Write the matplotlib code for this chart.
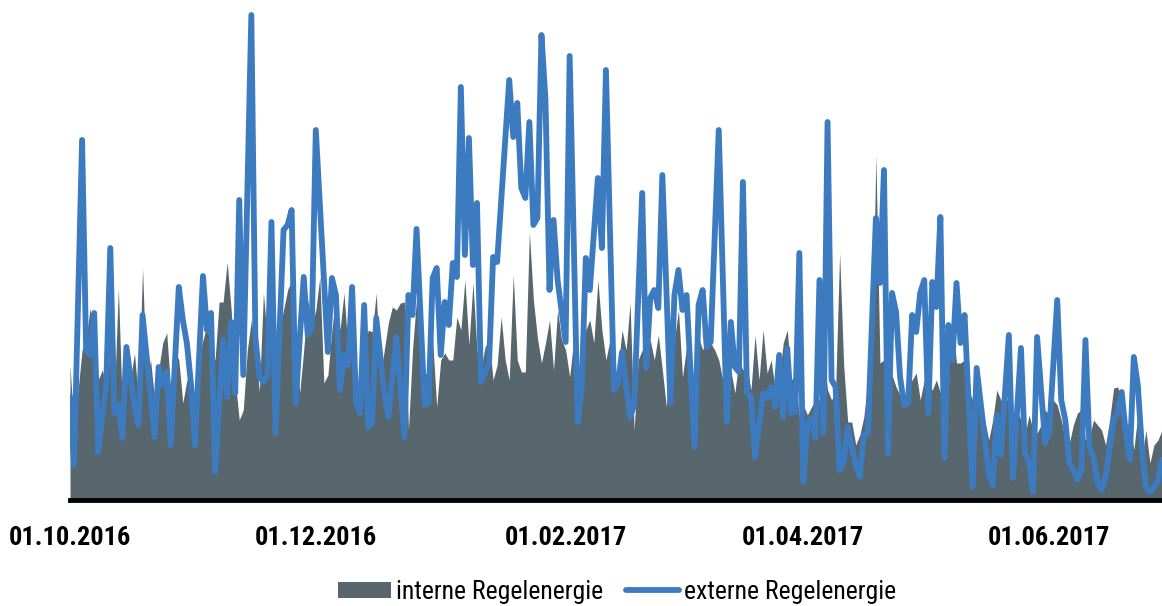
import datetime as dt
import matplotlib
matplotlib.use("Agg")
import matplotlib.pyplot as plt
from matplotlib import font_manager
from matplotlib.patches import Patch
from matplotlib.lines import Line2D

start = dt.date(2016, 10, 1)

# interne Regelenergie, one value per day from 01.10.2016
interne = [
    135, 70, 110, 150, 160, 192, 150, 120, 130, 115,
    150, 100, 212, 90, 140, 120, 147, 100, 232, 117,
    140, 100, 130, 157, 167, 110, 150, 140, 97, 120,
    115, 100, 140, 160, 175, 150, 140, 198, 198, 238,
    190, 120, 80, 90, 150, 180, 150, 108, 207, 160,
    150, 130, 170, 190, 210, 220, 160, 107, 150, 200,
    175, 190, 223, 117, 125, 170, 207, 170, 207, 150,
    190, 110, 113, 150, 170, 168, 207, 123, 150, 177,
    193, 190, 197, 198, 70, 150, 202, 160, 130, 120,
    160, 93, 140, 147, 140, 140, 183, 170, 220, 155,
    217, 150, 130, 153, 160, 120, 135, 183, 140, 120,
    225, 140, 128, 128, 268, 200, 162, 137, 157, 180,
    130, 190, 160, 150, 123, 160, 120, 140, 170, 180,
    157, 220, 170, 140, 160, 120, 130, 170, 150, 197,
    70, 140, 150, 147, 160, 140, 165, 130, 93, 167,
    160, 190, 123, 153, 140, 110, 163, 150, 163, 157,
    150, 140, 120, 143, 130, 107, 140, 130, 133, 110,
    165, 120, 170, 127, 140, 110, 120, 157, 170, 120,
    125, 83, 95, 85, 93, 100, 100, 147, 110, 100,
    110, 247, 135, 78, 78, 55, 65, 83, 120, 140,
    345, 137, 140, 120, 125, 113, 105, 95, 115, 120,
    127, 100, 120, 115, 110, 120, 107, 130, 150, 178,
    137, 137, 140, 110, 100, 100, 95, 80, 60, 80,
    110, 100, 95, 105, 75, 90, 80, 65, 85, 70,
    67, 75, 90, 85, 100, 95, 80, 60, 57, 75,
    87, 90, 60, 63, 80, 75, 70, 55, 80, 112,
    113, 100, 70, 80, 50, 85, 40, 70, 37, 55,
    60, 70,
]

# externe Regelenergie, read at the turning points of the line (day offset, value)
extern_days = [
    0, 1, 3, 4, 5, 6, 7, 9, 10, 11, 12, 13, 14, 16, 17, 18, 21, 22, 23, 24,
    25, 27, 28, 29, 30, 31, 33, 34, 35, 36, 38, 39, 40, 41, 42, 43, 45, 46, 47, 48,
    49, 50, 51, 53, 54, 55, 56, 58, 59, 60, 61, 64, 65, 66, 67, 68, 69, 70, 71, 72,
    73, 74, 75, 76, 78, 79, 81, 83, 84, 85, 86, 88, 89, 90, 91, 92, 93, 94, 95, 96,
    97, 98, 99, 100, 101, 102, 104, 105, 106, 109, 110, 111, 112, 113, 114, 115, 116, 117, 118, 119,
    120, 121, 123, 124, 126, 127, 128, 129, 131, 132, 133, 135, 136, 137, 139, 140, 142, 143, 144, 145,
    146, 147, 149, 150, 151, 152, 153, 155, 156, 157, 158, 159, 161, 163, 164, 165, 166, 167, 168, 169,
    170, 172, 173, 174, 175, 176, 177, 178, 179, 180, 181, 182, 183, 184, 185, 186, 187, 188, 189, 190,
    191, 192, 193, 194, 195, 196, 197, 198, 200, 201, 202, 203, 204, 205, 206, 207, 208, 209, 210, 211,
    212, 213, 214, 215, 216, 217, 218, 219, 220, 221, 222, 224, 225, 228, 229, 230, 231, 233, 234, 236,
    237, 238, 239, 240, 242, 243, 245, 246, 247, 248, 249, 250, 251, 252, 253, 254, 255, 256, 257, 258,
    259, 260, 261, 262, 263, 264, 265, 266, 267, 268, 269, 270, 271,
]
extern_vals = [
    103, 35, 360, 150, 145, 187, 48, 117, 252, 87, 95, 62, 153, 93, 75, 185, 63, 133, 115, 128,
    55, 213, 180, 157, 117, 55, 224, 170, 187, 28, 160, 103, 178, 107, 300, 125, 485, 163, 123, 118,
    125, 278, 67, 270, 275, 290, 97, 223, 165, 172, 370, 148, 222, 205, 110, 145, 135, 213, 97, 87,
    195, 73, 78, 182, 107, 83, 163, 63, 205, 185, 271, 95, 97, 222, 232, 145, 198, 175, 237, 223,
    413, 245, 362, 235, 297, 118, 137, 243, 238, 420, 363, 397, 312, 302, 378, 275, 282, 465, 400, 210,
    280, 220, 158, 444, 78, 112, 242, 210, 322, 252, 430, 110, 117, 148, 83, 95, 307, 132, 202, 210,
    192, 325, 97, 205, 230, 190, 205, 53, 195, 210, 153, 158, 370, 78, 178, 133, 128, 318, 107, 103,
    43, 107, 102, 113, 93, 145, 83, 152, 87, 88, 247, 18, 77, 82, 62, 220, 67, 378, 120, 113,
    30, 38, 73, 53, 35, 23, 65, 67, 282, 217, 330, 47, 207, 188, 123, 95, 97, 185, 168, 207,
    220, 87, 218, 193, 283, 42, 175, 140, 217, 157, 185, 13, 132, 27, 15, 85, 45, 165, 22, 152,
    47, 38, 8, 163, 57, 67, 200, 100, 80, 37, 30, 20, 30, 160, 53, 43, 18, 10, 23, 52,
    80, 87, 108, 67, 40, 143, 115, 53, 13, 8, 13, 20, 40,
]

tick_dates = [dt.date(2016, 10, 1), dt.date(2016, 12, 1), dt.date(2017, 2, 1),
              dt.date(2017, 4, 1), dt.date(2017, 6, 1)]
tick_labels = ["01.10.2016", "01.12.2016", "01.02.2017", "01.04.2017", "01.06.2017"]

# the original uses a narrow face; take one if there is one, else shrink Roboto
names = {f.name for f in font_manager.fontManager.ttflist}
narrow = [n for n in ["Liberation Sans Narrow", "Roboto Condensed", "Open Sans Condensed",
                      "DejaVu Sans Condensed"] if n in names]
family = narrow[0] if narrow else "Roboto"
plt.rcParams["font.family"] = [family, "DejaVu Sans"]
tick_size = 19 if narrow else 17
legend_size = 18.5 if narrow else 16

grey = "#58666d"
blue = "#3d7bc0"

interne_dates = [start + dt.timedelta(days=i) for i in range(len(interne))]
extern_dates = [start + dt.timedelta(days=d) for d in extern_days]

fig = plt.figure(figsize=(11.62, 6.06), dpi=100)
ax = fig.add_axes([70 / 1162, 106 / 606, 1 - 70 / 1162, 500 / 606])

ax.fill_between(interne_dates, interne, 0, color=grey, linewidth=0)
ax.plot(extern_dates, extern_vals, color=blue, linewidth=4.2,
        solid_joinstyle="round", solid_capstyle="round")

ax.set_xlim(start, start + dt.timedelta(days=271))
ax.set_ylim(0, 500)
ax.set_yticks([])
ax.set_xticks(tick_dates)
ax.set_xticklabels(tick_labels, fontsize=tick_size, fontweight="bold")
ax.tick_params(axis="x", length=0, pad=19)
for s in ["top", "right", "left"]:
    ax.spines[s].set_visible(False)
ax.spines["bottom"].set_linewidth(3.5)
ax.spines["bottom"].set_color("black")

handles = [Patch(facecolor=grey, edgecolor="none"),
           Line2D([], [], color=blue, linewidth=4.2, solid_capstyle="round")]
fig.legend(handles, ["interne Regelenergie", "externe Regelenergie"],
           loc="center", bbox_to_anchor=(617 / 1162, 1 - 592 / 606),
           ncol=2, frameon=False, fontsize=legend_size, handlelength=2.05,
           handleheight=0.6, handletextpad=0.2, columnspacing=0.9)

fig.savefig("out.png", dpi=100)
